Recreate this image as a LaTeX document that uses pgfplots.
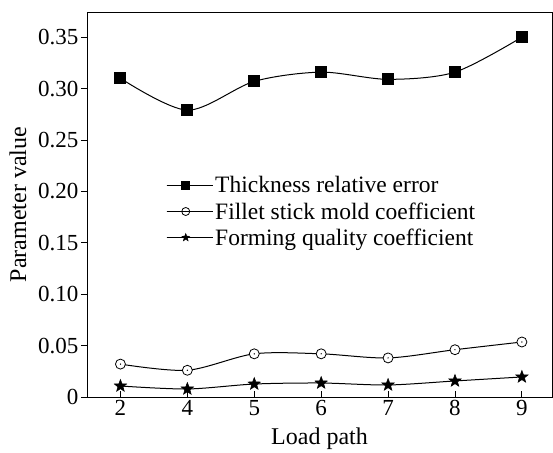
\documentclass[border=0pt]{standalone}
\usepackage{pgfplots}
\pgfplotsset{compat=1.18}
\usepackage{fontspec}
\setmainfont{Liberation Serif}
\pgfdeclareplotmark{odot}{%
  \pgfpathcircle{\pgfpoint{0pt}{0pt}}{\pgfplotmarksize}\pgfusepathqfillstroke
  \pgfscope\pgfsetfillcolor{black}%
  \pgfpathcircle{\pgfpoint{0pt}{0pt}}{0.14\pgfplotmarksize}\pgfusepathqfill
  \endpgfscope}
\pgfdeclareplotmark{fstar}{%
  \pgfpathmoveto{\pgfqpointpolar{90}{\pgfplotmarksize}}%
  \pgfpathlineto{\pgfqpointpolar{126}{0.42\pgfplotmarksize}}%
  \pgfpathlineto{\pgfqpointpolar{162}{\pgfplotmarksize}}%
  \pgfpathlineto{\pgfqpointpolar{198}{0.42\pgfplotmarksize}}%
  \pgfpathlineto{\pgfqpointpolar{234}{\pgfplotmarksize}}%
  \pgfpathlineto{\pgfqpointpolar{270}{0.42\pgfplotmarksize}}%
  \pgfpathlineto{\pgfqpointpolar{306}{\pgfplotmarksize}}%
  \pgfpathlineto{\pgfqpointpolar{342}{0.42\pgfplotmarksize}}%
  \pgfpathlineto{\pgfqpointpolar{18}{\pgfplotmarksize}}%
  \pgfpathlineto{\pgfqpointpolar{54}{0.42\pgfplotmarksize}}%
  \pgfpathclose\pgfusepathqfillstroke}
\begin{document}
\begin{tikzpicture}
\begin{axis}[
  scale only axis, width=465pt, height=385pt,
  xmin=-0.5, xmax=6.45, ymin=0, ymax=0.3745,
  xtick={0,1,2,3,4,5,6}, xticklabels={2,4,5,6,7,8,9},
  ytick={0,0.05,0.10,0.15,0.20,0.25,0.30,0.35},
  yticklabels={0,0.05,0.10,0.15,0.20,0.25,0.30,0.35},
  axis line style={line width=0.9pt},
  tick style={line width=0.8pt, black},
  major tick length=6pt,
  xtick pos=bottom, ytick pos=left,
  xtick align=inside, ytick align=outside,
  font=\fontsize{24}{27}\selectfont,
  ticklabel style={font=\fontsize{23}{26}\selectfont},
  yticklabel style={xshift=1pt},
  xlabel={Load path}, ylabel={Parameter value},
  xlabel style={yshift=-5pt}, ylabel style={yshift=5pt},
  legend style={draw=none, fill=none, at={(0.17,0.578)}, anchor=north west,
    font=\fontsize{23.5}{25}\selectfont, row sep=4pt, inner sep=0pt},
  legend cell align=left,
  legend image code/.code={%
    \draw[mark repeat=2, mark phase=2, #1, mark size=4pt]
      plot coordinates {(0pt,0pt) (19pt,0pt) (38pt,0pt)};
    \path (0pt,0pt) -- (46pt,0pt);},
]
\addplot[black, line width=1pt, smooth, mark=square*, mark size=5.5pt, mark options={solid}]
 coordinates {(0,0.310) (1,0.279) (2,0.307) (3,0.316) (4,0.309) (5,0.316) (6,0.350)};
\addlegendentry{Thickness relative error}
\addplot[black, line width=1pt, smooth, mark=odot, mark size=5pt, mark options={solid, fill=white, line width=0.8pt}]
 coordinates {(0,0.032) (1,0.026) (2,0.042) (3,0.042) (4,0.038) (5,0.046) (6,0.0535)};
\addlegendentry{Fillet stick mold coefficient}
\addplot[black, line width=1pt, smooth, mark=fstar, mark size=6.5pt, mark options={solid, fill=black, line width=0.5pt}]
 coordinates {(0,0.0107) (1,0.0078) (2,0.0126) (3,0.0136) (4,0.0117) (5,0.0156) (6,0.0195)};
\addlegendentry{Forming quality coefficient}
\end{axis}
\pgfresetboundingbox
\path ([shift={(-87pt,-56pt)}]current axis.south west) rectangle ([shift={(1pt,12pt)}]current axis.north east);
\end{tikzpicture}
\end{document}
